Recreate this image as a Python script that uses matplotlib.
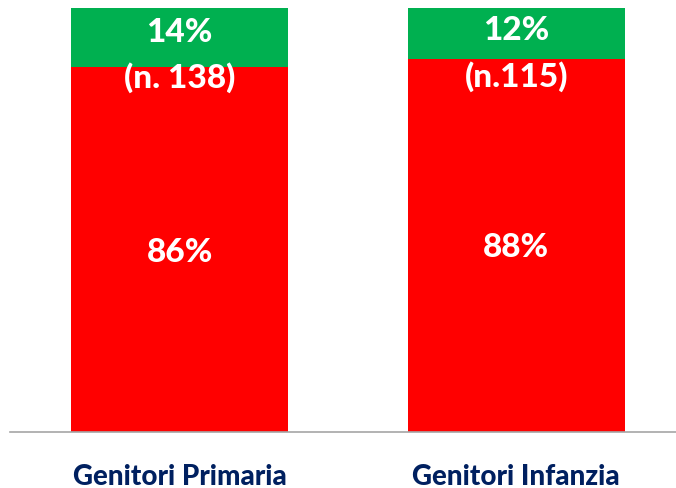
import matplotlib
matplotlib.use("Agg")
import matplotlib.pyplot as plt

categories = ["Genitori Primaria", "Genitori Infanzia"]
red_vals = [86, 88]
green_vals = [14, 12]
red_labels = ["86%", "88%"]
green_labels = ["14%", "12%"]
n_labels = ["(n. 138)", "(n.115)"]

plt.rcParams['font.family'] = ['Lato', 'DejaVu Sans']

fig = plt.figure(figsize=(6.76, 4.88), dpi=100)
ax = fig.add_axes([10/676, 1-432/488, 666/676, 424/488])

x = list(range(len(categories)))
w = 0.645
ax.bar(x, red_vals, width=w, color="#FF0000", edgecolor="none")
ax.bar(x, green_vals, bottom=red_vals, width=w, color="#00B050", edgecolor="none")

ax.set_xlim(-0.504, 1.475)
ax.set_ylim(0, 100)

for i in x:
    ax.text(i, red_vals[i] / 2 - 0.6, red_labels[i], ha="center", va="center",
            color="white", fontsize=24, fontweight="black")
    top = red_vals[i] + green_vals[i]
    ax.text(i, top - 5.7 if i == 0 else top - 5.2, green_labels[i], ha="center", va="center",
            color="white", fontsize=24, fontweight="black")
    ax.text(i, red_vals[i] - 2.3 if i == 0 else red_vals[i] - 4.1, n_labels[i], ha="center", va="center",
            color="white", fontsize=24, fontweight="black")
    ax.text(i, -10.5, categories[i], ha="center", va="center",
            color="#002060", fontsize=20, fontweight="black")

for s in ["top", "right", "left"]:
    ax.spines[s].set_visible(False)
ax.spines["bottom"].set_color("#A6A6A6")
ax.spines["bottom"].set_linewidth(1.2)
ax.set_xticks([])
ax.set_yticks([])

fig.savefig("out.png", dpi=100)
